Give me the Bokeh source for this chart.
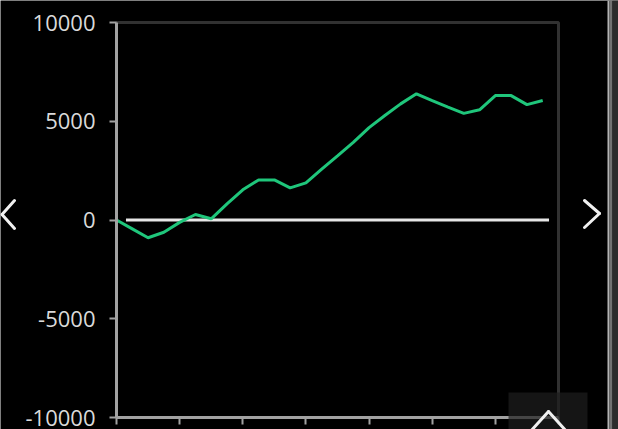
from bokeh.plotting import figure
from bokeh.models import (Range1d, FixedTicker, ColumnDataSource, CustomLabelingPolicy,
                          BoxAnnotation, Arrow)
from bokeh.embed import file_html
from bokeh.resources import INLINE

# ---- data ----
steps = list(range(28))
pnl = [0, -450, -900, -620, -120, 280, 60, 820, 1530, 2030, 2030, 1630, 1880, 2575,
       3250, 3930, 4680, 5290, 5880, 6390, 6050, 5720, 5400, 5580, 6300, 6300, 5840, 6050]
y_ticks = [-10000, -5000, 0, 5000, 10000]
y_labels = ["-10000", "-5000", "0", "5000", "10000"]
x_ticks = [0, 4, 8, 12, 16, 20, 24, 28]
x_lo, x_hi = 0, 28
y_lo, y_hi = -10000, 10000
zero_start = [0.6]
zero_end = [27.4]
zero_level = [0]

W, H = 618, 429
FL, FR, FT, FB = 116, 558, 22, 417  # wanted plot-box edges in canvas px

# the frame fills the whole canvas; the ranges are widened so the plot box lands at FL..FR, FT..FB
xs = (x_hi - x_lo) / (FR - FL)
ys = (y_hi - y_lo) / (FB - FT)
x_range = Range1d(x_lo - FL * xs, x_hi + (W - FR) * xs)
y_range = Range1d(y_lo - (H - FB) * ys, y_hi + FT * ys)

p = figure(width=W, height=H, output_backend="svg", toolbar_location=None,
           x_range=x_range, y_range=y_range,
           min_border_left=0, min_border_right=0, min_border_top=0, min_border_bottom=0)
p.background_fill_color = "black"
p.border_fill_color = "black"
p.outline_line_color = None
p.grid.visible = False

gray = "#a2a2a2"
yax = p.yaxis[0]
yax.fixed_location = x_lo
yax.bounds = (y_lo, y_hi)
yax.ticker = FixedTicker(ticks=y_ticks)
yax.major_label_overrides = {t: s for t, s in zip(y_ticks, y_labels)}
yax.axis_line_color = gray
yax.axis_line_width = 3
yax.major_tick_line_color = gray
yax.major_tick_line_width = 2
yax.major_tick_out = 7
yax.major_tick_in = 0
yax.minor_tick_line_color = None
yax.major_label_text_color = "#dadada"
yax.major_label_text_font = "Open Sans"
yax.major_label_text_font_size = "22px"
yax.major_label_standoff = 14

xax = p.xaxis[0]
xax.fixed_location = y_lo
xax.bounds = (x_lo, x_hi)
xax.ticker = FixedTicker(ticks=x_ticks)
xax.axis_line_color = gray
xax.axis_line_width = 3
xax.major_tick_line_color = gray
xax.major_tick_line_width = 2
xax.major_tick_out = 7
xax.major_tick_in = 0
xax.minor_tick_line_color = None
xax.major_label_text_font_size = "1px"
xax.major_label_standoff = 0
# the x tick labels lie below the visible window in the reference: draw none
xax.major_label_policy = CustomLabelingPolicy(code="""
for (const i of indices) indices.unset(i)
return indices
""")

# plot box outline (top and right edges; left/bottom are the axes)
p.add_layout(BoxAnnotation(left=x_lo, right=x_hi, bottom=y_lo, top=y_hi,
                           fill_alpha=0, line_color=gray, line_width=3, level="guide"))

# zero line
p.segment(x0=zero_start, y0=zero_level, x1=zero_end, y1=zero_level,
          line_color="#e6e6e6", line_width=3)
# equity line
src = ColumnDataSource(dict(x=steps, y=pnl))
p.line("x", "y", source=src, line_color="#1fc67b", line_width=3)

# ---- UI chrome around the chart (screen px, converted to frame-relative units) ----
def seg(x0, y0, x1, y1, color="#f0f0f0", w=3):
    p.add_layout(Arrow(x_start=x0, y_start=H - y0, x_end=x1, y_end=H - y1,
                       start_units="screen", end_units="screen", end=None, start=None,
                       line_color=color, line_width=w, line_cap="round", level="overlay"))

def box(l, r, t, b, color, alpha=1.0):
    p.add_layout(BoxAnnotation(left=l, right=r, top=H - t, bottom=H - b,
                               left_units="screen", right_units="screen",
                               top_units="screen", bottom_units="screen",
                               fill_color=color, fill_alpha=alpha, line_color=None,
                               level="overlay"))

box(508, 587, 392, 429, "#1e1e1e", 0.7)
box(607, 609, 0, 429, "#b4b4b4")
box(609, 612, 0, 429, "#727272")
box(612, 618, 0, 429, "#2c2c2c")
seg(14, 200, 1.5, 214); seg(1.5, 214, 14, 228)
seg(584, 200, 599, 213); seg(599, 213, 584, 227)
seg(529, 432, 548, 411); seg(548, 411, 567, 432)

open("out.html", "w").write(file_html(p, INLINE))
